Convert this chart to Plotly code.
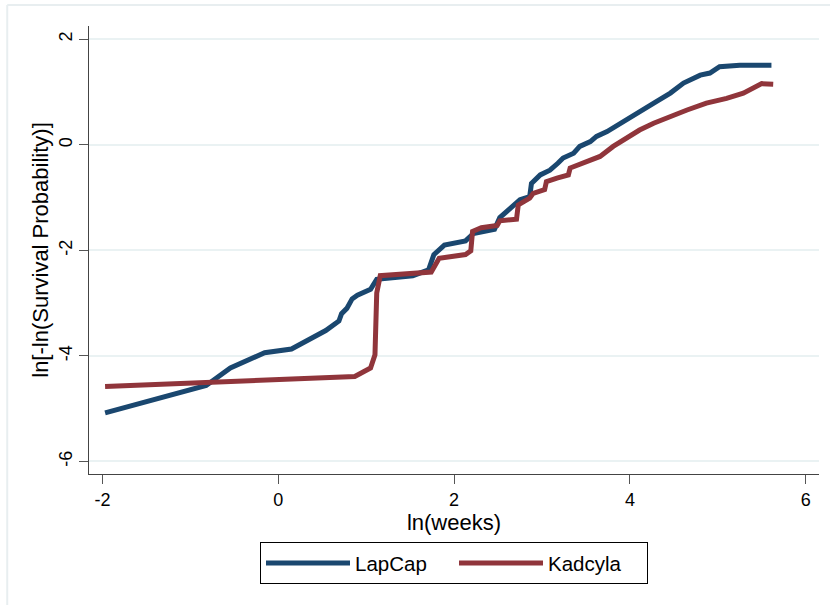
import plotly.graph_objects as go

# LapCap (blue)
lap_x = [-1.97, -0.82, -0.545, -0.155, 0.15, 0.54, 0.69, 0.72, 0.78, 0.84, 0.90, 1.05, 1.12,
         1.53, 1.71, 1.77, 1.89, 2.13, 2.22, 2.46, 2.52, 2.67, 2.75, 2.86, 2.88, 2.98, 3.09,
         3.18, 3.24, 3.36, 3.43, 3.55, 3.62, 3.74, 3.89, 4.04, 4.15, 4.30, 4.46, 4.61,
         4.80, 4.91, 5.02, 5.25, 5.61]
lap_y = [-5.08, -4.56, -4.23, -3.94, -3.87, -3.52, -3.34, -3.20, -3.10, -2.92, -2.85, -2.74, -2.55,
         -2.48, -2.37, -2.08, -1.90, -1.82, -1.68, -1.60, -1.38, -1.17, -1.04, -0.98, -0.73, -0.57, -0.48,
         -0.35, -0.25, -0.16, -0.03, 0.06, 0.16, 0.25, 0.41, 0.57, 0.66, 0.82, 0.98, 1.17,
         1.32, 1.36, 1.48, 1.51, 1.51]

# Kadcyla (red)
kad_x = [-1.97, 0.87, 1.05, 1.10, 1.12, 1.16, 1.74, 1.83, 2.13, 2.19, 2.21, 2.31, 2.49, 2.52,
         2.71, 2.73, 2.86, 2.90, 3.03, 3.05, 3.17, 3.30, 3.32, 3.47, 3.66, 3.81, 3.96,
         4.11, 4.27, 4.46, 4.65, 4.87, 5.10, 5.29, 5.40, 5.50, 5.63]
kad_y = [-4.58, -4.39, -4.23, -3.98, -2.81, -2.48, -2.41, -2.15, -2.08, -2.01, -1.64, -1.57, -1.53, -1.44,
         -1.41, -1.14, -1.01, -0.92, -0.85, -0.70, -0.63, -0.57, -0.44, -0.35, -0.22, -0.03, 0.13,
         0.28, 0.41, 0.54, 0.66, 0.79, 0.88, 0.98, 1.07, 1.16, 1.15]

x_ticks = [-2, 0, 2, 4, 6]
x_labels = ["-2", "0", "2", "4", "6"]
y_ticks = [-6, -4, -2, 0, 2]
y_labels = ["-6", "-4", "-2", "0", "2"]

BLUE = "#1a476f"
RED = "#90353b"
FONT = "Liberation Sans, Arial, sans-serif"

fig = go.Figure()
fig.add_trace(go.Scatter(x=lap_x, y=lap_y, mode="lines", name="LapCap",
                         line=dict(color=BLUE, width=5)))
fig.add_trace(go.Scatter(x=kad_x, y=kad_y, mode="lines", name="Kadcyla",
                         line=dict(color=RED, width=5)))

fig.update_layout(
    width=830, height=605,
    margin=dict(l=89, r=11, t=26, b=131),
    paper_bgcolor="white", plot_bgcolor="white",
    font=dict(family=FONT, size=18, color="black"),
    showlegend=True,
    legend=dict(orientation="h", x=0.5, xanchor="center", y=-0.152, yanchor="top",
                bordercolor="black", borderwidth=1, bgcolor="white",
                font=dict(size=20.5), itemwidth=84, entrywidth=94, tracegroupgap=0),
    xaxis=dict(range=[-2.153, 6.151], tickvals=x_ticks, ticktext=x_labels, ticks="outside", ticklen=9,
               tickcolor="#555555", showline=True, linecolor="#444444", linewidth=1,
               showgrid=False, zeroline=False, title=dict(text="ln(weeks)", standoff=2),
               tickfont=dict(size=18)),
    yaxis=dict(range=[-6.239, 2.252], tickvals=y_ticks, ticktext=y_labels, ticks="outside", ticklen=9,
               tickcolor="#555555", showline=True, linecolor="#444444", linewidth=1,
               showgrid=True, gridcolor="#eaf2f3", gridwidth=2, zeroline=False,
               tickangle=-90, title=dict(text="ln[-ln(Survival Probability)]", standoff=1),
               tickfont=dict(size=18)),
    shapes=[
        dict(type="line", xref="paper", yref="paper", x0=-0.112, x1=1.1, y0=1.047, y1=1.047,
             line=dict(color="#e8eef0", width=2)),
        dict(type="line", xref="paper", yref="paper", x0=-0.112, x1=-0.112, y0=1.047, y1=-0.4,
             line=dict(color="#e8eef0", width=2)),
    ],
)

fig.write_html("out.html")
